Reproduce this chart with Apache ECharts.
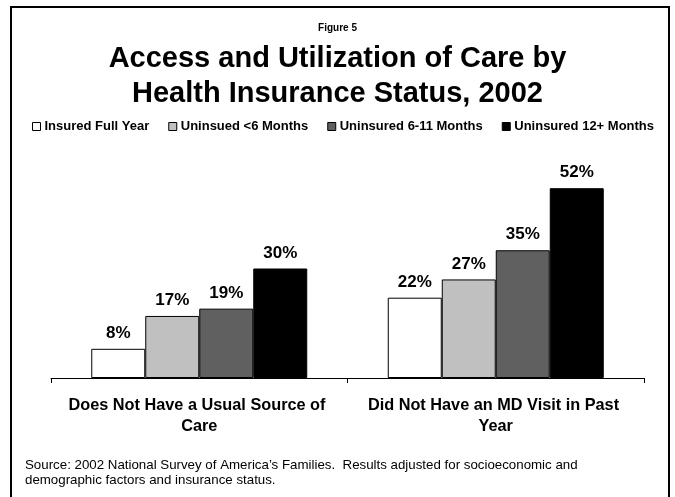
<!DOCTYPE html>
<html>
<head>
<meta charset="utf-8">
<script src="https://cdn.jsdelivr.net/npm/echarts@6/dist/echarts.min.js"></script>
<style>
  html, body { margin: 0; padding: 0; background: #fff; }
  #chart { width: 675px; height: 497px; }
</style>
</head>
<body>
<div id="chart"></div>
<script>
// Outcome groups along the x axis
const categories = [
  'Does Not Have a Usual Source of Care',
  'Did Not Have an MD Visit in Past Year'
];

// Insurance status groups (percent of group)
const seriesNames = [
  'Insured Full Year',
  'Uninsued <6 Months',
  'Uninsured 6-11 Months',
  'Uninsured 12+ Months'
];
const insuredFullYear = [8, 22];
const uninsuredUnder6 = [17, 27];
const uninsured6to11 = [19, 35];
const uninsured12plus = [30, 52];
const seriesValues = [insuredFullYear, uninsuredUnder6, uninsured6to11, uninsured12plus];

const seriesColors = ['#ffffff', '#c0c0c0', '#606060', '#000000'];

const titleLines = ['Access and Utilization of Care by', 'Health Insurance Status, 2002'];

const FONT = '"Liberation Sans", Arial, Helvetica, sans-serif';

const chart = echarts.init(document.getElementById('chart'), null, { renderer: 'canvas' });

const series = seriesNames.map((name, i) => ({
  name: name,
  type: 'bar',
  data: seriesValues[i],
  barWidth: 54,
  barGap: '0%',
  itemStyle: { color: seriesColors[i], borderColor: '#000', borderWidth: 1 },
  label: {
    show: true,
    position: 'top',
    distance: 7,
    formatter: '{c}%',
    color: '#000',
    fontFamily: FONT,
    fontWeight: 'bold',
    fontSize: 17
  },
  emphasis: { disabled: true },
  animation: false
}));

const mainTitleStyle = { fontFamily: FONT, fontWeight: 'bold', fontSize: 29, color: '#000' };

chart.setOption({
  backgroundColor: '#fff',
  animation: false,
  title: [
    {
      text: 'Figure 5',
      left: 'center',
      top: 18,
      textStyle: { fontFamily: FONT, fontWeight: 'bold', fontSize: 10, color: '#000' }
    },
    { text: titleLines[0], left: 'center', top: 44, padding: 0, textStyle: mainTitleStyle },
    { text: titleLines[1], left: 'center', top: 79, padding: 0, textStyle: mainTitleStyle }
  ],
  legend: {
    data: seriesNames,
    left: 27,
    top: 115,
    icon: 'rect',
    itemWidth: 8,
    itemHeight: 8,
    itemGap: 19,
    selectedMode: false,
    itemStyle: { borderColor: '#000', borderWidth: 1 },
    textStyle: { fontFamily: FONT, fontWeight: 'bold', fontSize: 13, color: '#000', padding: [0, 0, 0, -1] }
  },
  grid: { left: 51, right: 31, top: 159, bottom: 119, containLabel: false },
  xAxis: {
    type: 'category',
    data: categories,
    axisLine: { lineStyle: { color: '#000', width: 1 } },
    axisTick: { show: true, length: 5, lineStyle: { color: '#000' } },
    axisLabel: {
      interval: 0,
      hideOverlap: false,
      margin: 17,
      width: 268,
      overflow: 'break',
      lineHeight: 21,
      fontFamily: FONT,
      fontWeight: 'bold',
      fontSize: 16.3,
      color: '#000'
    }
  },
  yAxis: {
    type: 'value',
    min: 0,
    max: 60,
    show: false,
    splitLine: { show: false }
  },
  series: series,
  graphic: [
    {
      type: 'rect',
      silent: true,
      shape: { x: 11, y: 7, width: 658, height: 500 },
      style: { fill: 'none', stroke: '#000', lineWidth: 2 }
    },
    {
      type: 'text',
      silent: true,
      left: 25,
      top: 458,
      style: {
        text: 'Source: 2002 National Survey of America\u2019s Families.  Results adjusted for socioeconomic and\ndemographic factors and insurance status.',
        fontFamily: FONT,
        fontSize: 13.3,
        lineHeight: 15,
        fill: '#000'
      }
    }
  ]
});
</script>
</body>
</html>
